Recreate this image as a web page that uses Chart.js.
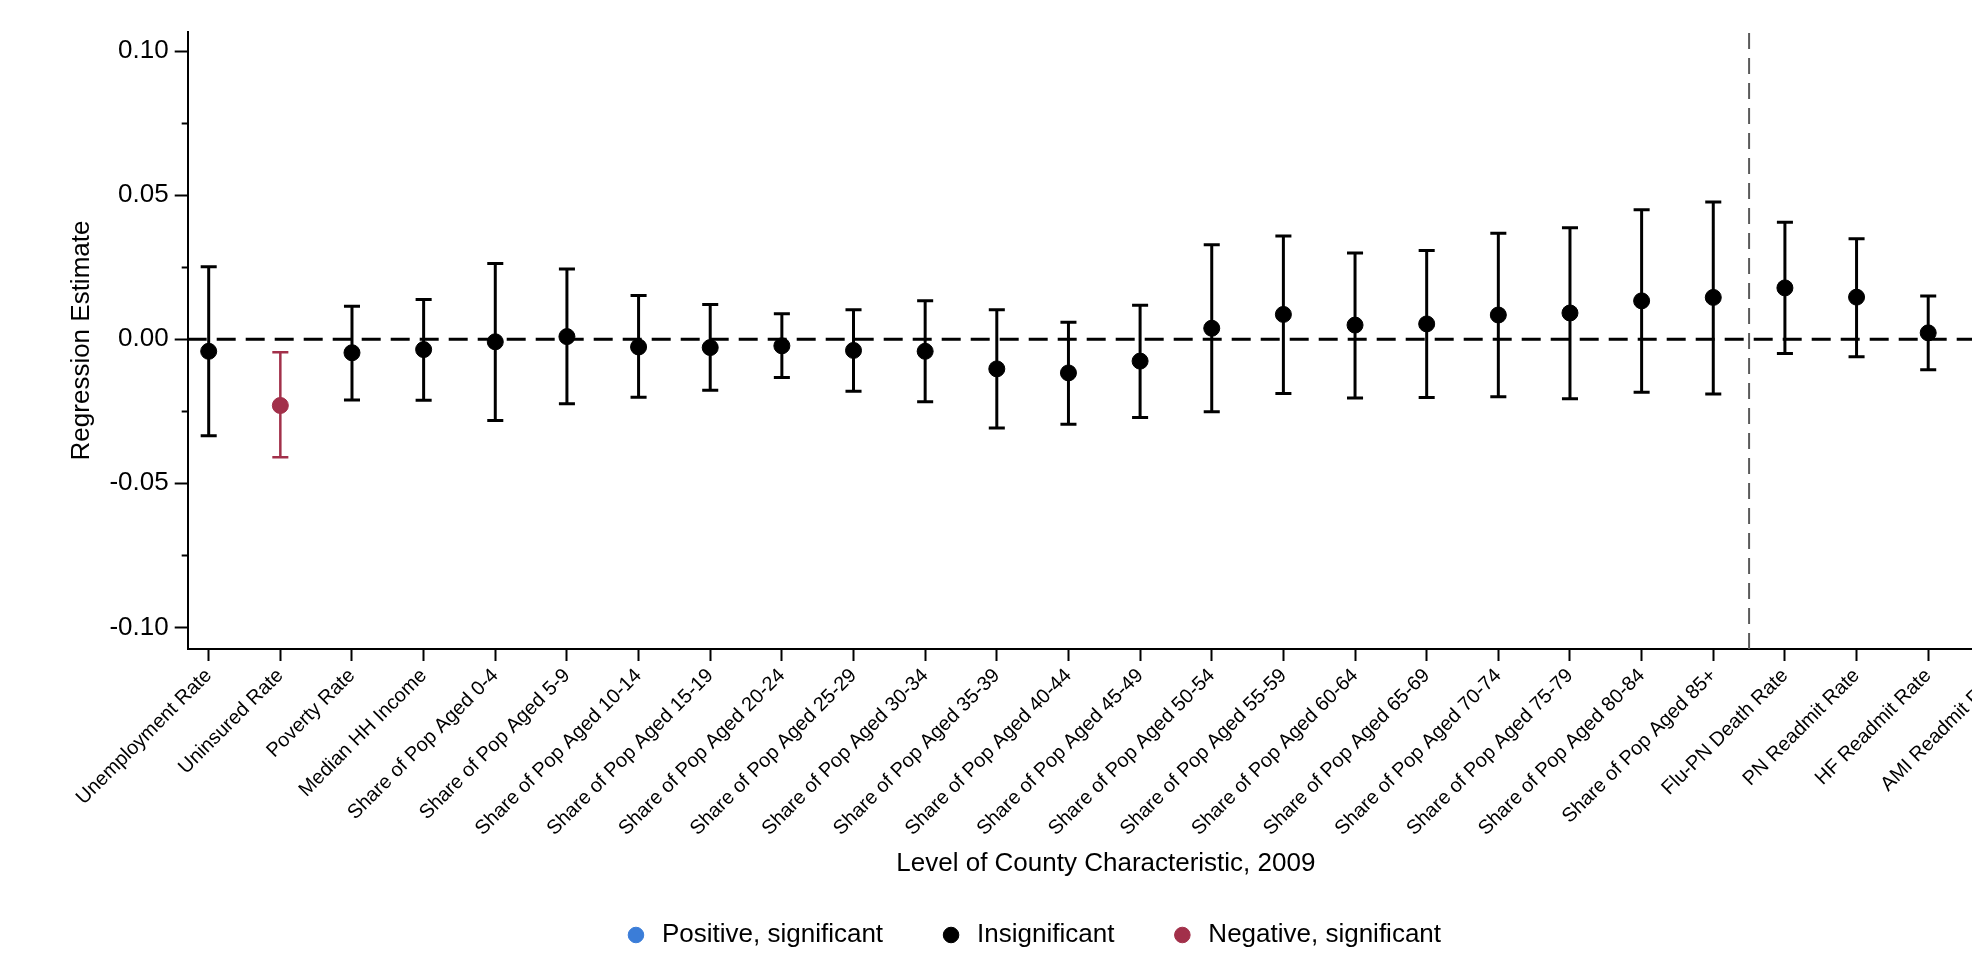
<!DOCTYPE html>
<html>
<head>
<meta charset="utf-8">
<script src="https://cdn.jsdelivr.net/npm/chart.js@4.4.1/dist/chart.umd.min.js"></script>
<style>
  html,body{margin:0;padding:0;background:#fff;overflow:hidden;}
  #wrap{width:2064px;height:959px;}
</style>
</head>
<body>
<div id="wrap"><canvas id="coefChart" width="2064" height="959"></canvas></div>
<script>
// county characteristics (the last one is cut off at the right edge)
const categories = [
  'Unemployment Rate','Uninsured Rate','Poverty Rate','Median HH Income',
  'Share of Pop Aged 0-4','Share of Pop Aged 5-9','Share of Pop Aged 10-14','Share of Pop Aged 15-19',
  'Share of Pop Aged 20-24','Share of Pop Aged 25-29','Share of Pop Aged 30-34','Share of Pop Aged 35-39',
  'Share of Pop Aged 40-44','Share of Pop Aged 45-49','Share of Pop Aged 50-54','Share of Pop Aged 55-59',
  'Share of Pop Aged 60-64','Share of Pop Aged 65-69','Share of Pop Aged 70-74','Share of Pop Aged 75-79',
  'Share of Pop Aged 80-84','Share of Pop Aged 85+','Flu-PN Death Rate','PN Readmit Rate',
  'HF Readmit Rate','AMI Readmit Rate'
];
const estimates = [
  -0.0042,-0.0230,-0.0047,-0.0036,-0.0009, 0.0009,-0.0027,-0.0029,
  -0.0023,-0.0039,-0.0042,-0.0103,-0.0117,-0.0076, 0.0038, 0.0086,
   0.0049, 0.0053, 0.0084, 0.0091, 0.0133, 0.0145, 0.0178, 0.0146,
   0.0022, null
];
const ciLower = [
  -0.0335,-0.0410,-0.0211,-0.0212,-0.0282,-0.0224,-0.0201,-0.0177,
  -0.0133,-0.0181,-0.0217,-0.0308,-0.0295,-0.0272,-0.0252,-0.0188,
  -0.0204,-0.0202,-0.0200,-0.0207,-0.0184,-0.0190,-0.0050,-0.0061,
  -0.0106, null
];
const ciUpper = [
   0.0251,-0.0045, 0.0114, 0.0138, 0.0263, 0.0244, 0.0152, 0.0120,
   0.0088, 0.0102, 0.0133, 0.0102, 0.0059, 0.0118, 0.0328, 0.0358,
   0.0299, 0.0308, 0.0368, 0.0387, 0.0449, 0.0476, 0.0406, 0.0349,
   0.0150, null
];
const yMajorTicks = [-0.10, -0.05, 0, 0.05, 0.10];
const yMinorTicks = [-0.075, -0.025, 0.025, 0.075];
const yRange = [-0.1075, 0.1066];
const xRange = [-0.293, 25.337];
const referenceY = 0;
const groupDividerX = 21.5;
const legendNames = ['Positive, significant', 'Insignificant', 'Negative, significant'];

const COL = {pos: '#3b7dd8', ns: '#000000', neg: '#a2304a'};
const CAP = 0.112;

Chart.defaults.font.family = "'Liberation Sans', Arial, sans-serif";
Chart.defaults.color = '#000';

const kindOf = i => estimates[i] == null ? null : (ciLower[i] > 0 ? 'pos' : (ciUpper[i] < 0 ? 'neg' : 'ns'));
const pointsOf = k => estimates.map((v,i)=>({x:i,y:v})).filter((p,i)=>kindOf(i)===k);
const barsOf = k => {
  const out = [];
  estimates.forEach((v,i)=>{
    if (kindOf(i)!==k) return;
    const lo = ciLower[i], hi = ciUpper[i];
    out.push({x:i,y:lo},{x:i,y:hi},{x:i,y:null},
             {x:i-CAP,y:hi},{x:i+CAP,y:hi},{x:i,y:null},
             {x:i-CAP,y:lo},{x:i+CAP,y:lo},{x:i,y:null});
  });
  return out;
};
const ptSet = (label,k) => ({label, data:pointsOf(k), backgroundColor:COL[k], borderColor:COL[k], borderWidth:1, pointRadius:8, pointHoverRadius:8, pointStyle:'circle', order:0});
const barSet = (k,w) => ({label:'', data:barsOf(k), showLine:true, borderColor:COL[k], borderWidth:w, pointRadius:0, spanGaps:false, order:1});

new Chart(document.getElementById('coefChart'), {
  type: 'scatter',
  data: {
    datasets: [
      ptSet(legendNames[0], 'pos'),
      ptSet(legendNames[1], 'ns'),
      ptSet(legendNames[2], 'neg'),
      barSet('ns', 3),
      barSet('neg', 2.5),
      {label:'', data:[{x:xRange[0],y:referenceY},{x:xRange[1],y:referenceY}], showLine:true, borderColor:'#000', borderWidth:3, borderDash:[19,10], pointRadius:0, order:2},
      {label:'', data:[{x:groupDividerX,y:yRange[0]},{x:groupDividerX,y:yRange[1]}], showLine:true, borderColor:'#5a5a5a', borderWidth:2, borderDash:[16,9], pointRadius:0, order:2}
    ]
  },
  options: {
    responsive: false, animation: false, events: [],
    layout: {padding: {left: 40, right: 40, top: 32, bottom: 1}},
    plugins: {
      legend: {
        position: 'bottom',
        labels: {usePointStyle:true, boxWidth:26, boxHeight:11, padding:55, color:'#000', font:{size:26},
                 filter: it => legendNames.includes(it.text)}
      },
      tooltip: {enabled:false}
    },
    scales: {
      x: {
        type:'linear', min:xRange[0], max:xRange[1], bounds:'data',
        afterBuildTicks: s => { s.ticks = categories.map((_,i)=>({value:i})); },
        afterFit: s => { s.height = 218; s.paddingLeft = 0; s.paddingRight = 0; },
        ticks: {autoSkip:false, minRotation:45, maxRotation:45, padding:3, color:'#000', font:{size:20}, callback: v => categories[v]},
        grid: {drawOnChartArea:false, tickLength:12, tickWidth:2, tickColor:'#000'},
        border: {display:true, color:'#000', width:2},
        title: {display:true, text:'Level of County Characteristic, 2009', color:'#000', font:{size:26}, padding:{top:0, bottom:-12}}
      },
      y: {
        position:'left', weight:1, min:yRange[0], max:yRange[1], bounds:'data',
        afterBuildTicks: s => { s.ticks = yMajorTicks.map(v=>({value:v})); },
        afterFit: s => { s.width = 147.7; },
        ticks: {padding:6, color:'#000', font:{size:26}, callback: v => v.toFixed(2)},
        grid: {drawOnChartArea:false, tickLength:13, tickWidth:2, tickColor:'#000'},
        border: {display:true, color:'#000', width:2},
        title: {display:true, text:'Regression Estimate', color:'#000', font:{size:26}, padding:{top:26, bottom:0}}
      },
      y2: {
        position:'left', weight:0, min:yRange[0], max:yRange[1], bounds:'data',
        afterBuildTicks: s => { s.ticks = yMinorTicks.map(v=>({value:v})); },
        afterFit: s => { s.width = 0; },
        ticks: {display:false},
        grid: {drawOnChartArea:false, tickLength:6, tickWidth:2, tickColor:'#000'},
        border: {display:false}
      }
    }
  }
});
</script>
</body>
</html>
